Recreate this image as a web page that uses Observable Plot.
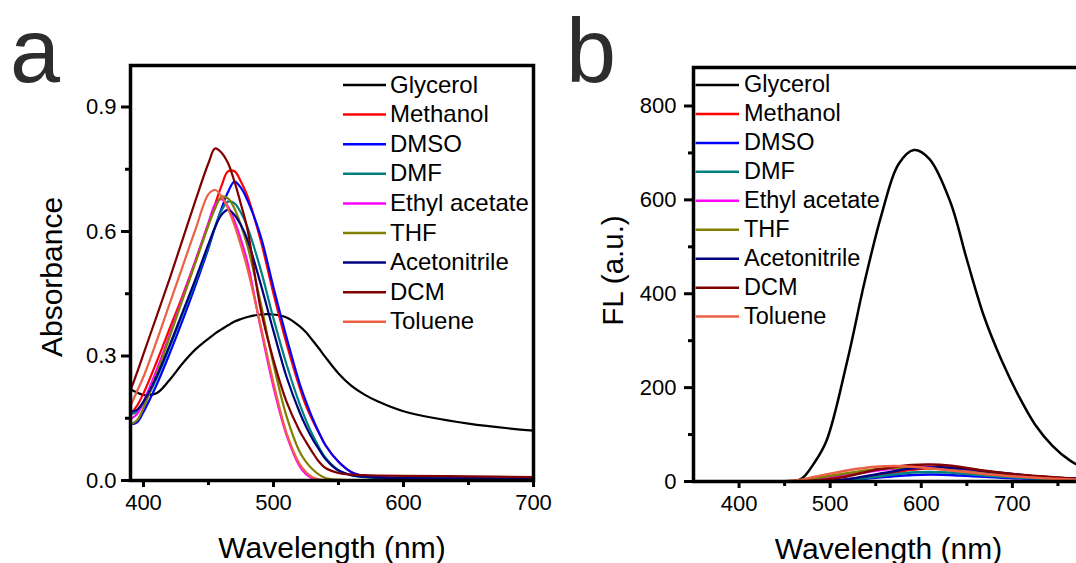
<!DOCTYPE html>
<html><head><meta charset="utf-8">
<script src="https://cdn.jsdelivr.net/npm/d3@7"></script>
<script src="https://cdn.jsdelivr.net/npm/@observablehq/plot@0.6"></script>
<style>
body{margin:0;background:#fff;}
#wrap{position:relative;width:1076px;height:563px;overflow:hidden;font-family:"Liberation Sans",Arial,sans-serif;background:#fff;}
#wrap > svg{position:absolute;top:0;}
</style></head><body><div id="wrap"></div>
<script>
// ---------- series names & colours ----------
const solvents = ["Glycerol","Methanol","DMSO","DMF","Ethyl acetate","THF","Acetonitrile","DCM","Toluene"];
const colors   = ["#000000","#ff0000","#0000ff","#008080","#ff00ff","#808000","#000080","#800000","#ee6044"];

// ---------- panel a: absorbance ----------
const absX = [390,395,400,410,420,430,440,450,455,460,465,470,475,480,490,500,510,520,525,530,535,540,550,560,570,580,600,650,700];
const absGlycerol     = [.22,.212,.206,.21,.242,.282,.316,.342,.354,.364,.374,.383,.389,.394,.40,.40,.393,.372,.357,.338,.318,.297,.258,.228,.207,.191,.167,.137,.12];
const absMethanol     = [.16,.18,.21,.285,.365,.445,.53,.62,.665,.71,.745,.745,.72,.685,.58,.45,.33,.225,.18,.145,.115,.085,.045,.02,.01,.008,.006,.005,.004];
const absDMSO         = [.135,.14,.165,.23,.305,.385,.47,.56,.61,.655,.695,.72,.705,.675,.59,.465,.345,.235,.19,.15,.115,.085,.045,.02,.011,.008,.006,.005,.004];
const absDMF          = [.16,.165,.185,.245,.32,.40,.48,.565,.61,.65,.672,.668,.645,.61,.51,.39,.28,.185,.145,.11,.08,.055,.025,.012,.008,.006,.005,.004,.003];
const absEthylAcetate = [.148,.16,.19,.265,.35,.44,.53,.62,.665,.678,.66,.625,.58,.525,.37,.225,.11,.035,.015,.005,.001,0,0,0,0,0,0,0,0];
const absTHF          = [.135,.145,.175,.255,.345,.435,.525,.615,.655,.684,.68,.655,.615,.565,.43,.28,.155,.07,.045,.027,.014,.006,.002,.001,0,0,0,0,0];
const absAcetonitrile = [.165,.17,.19,.25,.325,.405,.485,.57,.61,.64,.652,.64,.615,.58,.475,.36,.25,.165,.13,.10,.075,.052,.024,.013,.009,.007,.006,.005,.004];
const absDCM          = [.217,.26,.305,.395,.485,.58,.675,.765,.80,.79,.765,.72,.665,.605,.415,.29,.19,.12,.093,.068,.045,.03,.018,.014,.013,.012,.011,.01,.008];
const absToluene      = [.18,.215,.25,.335,.425,.515,.605,.69,.70,.685,.655,.615,.565,.51,.375,.235,.115,.04,.02,.008,.003,.001,0,0,0,0,0,0,0];
const absSeries = [absGlycerol,absMethanol,absDMSO,absDMF,absEthylAcetate,absTHF,absAcetonitrile,absDCM,absToluene];
const absXTicks = [400,500,600,700];
const absXMinor = [450,550,650];
const absYTicks = [0,0.3,0.6,0.9];
const absYMinor = [0.15,0.45,0.75];

// ---------- panel b: fluorescence ----------
const flGlyX = [430,450,461,470,482,496,519,538,557,575,592,609,632,650,669,688,707,725,744,763,780,800];
const flGlycerol = [0,0,0,8,38,87,259,427,573,676,706,687,595,473,351,259,182,121,76,45,28,16];
const flX = [430,450,470,490,510,530,550,570,590,610,630,650,670,700,730,760,800];
const flMethanol     = [0,0,0.2,0.8,2.5,6,12,19,25,28,28,25,21,15,10,6,3];
const flDMSO         = [0,0,0.1,0.4,1.5,4,8,11,14,15,14,12,10,7,5,3,2];
const flDMF          = [0,0,0.1,0.5,2,5,10,15,19,20,19,16,13,9,6,4,2];
const flEthylAcetate = [0,0.2,2,6,11,17,23,27,30,31,29,25,20,14,9,6,3];
const flTHF          = [0,0.3,3,9,15,21,26,29,30,28,25,21,17,12,8,5,3];
const flAcetonitrile = [0,0,0.2,1,3,8,15,22,28,30,30,27,22,16,10,7,4];
const flDCM          = [0,0,0.5,3,8,16,25,31,35,36,34,29,23,16,11,7,4];
const flToluene      = [0,0.5,4.5,13,20.5,27,31.5,33,31.5,28,24,20,16,11,7.5,5,3];
const flSeries = [null,flMethanol,flDMSO,flDMF,flEthylAcetate,flTHF,flAcetonitrile,flDCM,flToluene];
const flXTicks = [400,500,600,700];
const flXMinor = [450,550,650,750];
const flYTicks = [0,200,400,600,800];
const flYMinor = [100,300,500,700];

// ---------- build tables ----------
const absRows = [];
solvents.forEach((s,i)=>absX.forEach((x,j)=>absRows.push({s, x, y: absSeries[i][j]})));
const flRows = [];
flGlyX.forEach((x,j)=>flRows.push({s:"Glycerol", x, y: flGlycerol[j]}));
solvents.forEach((s,i)=>{ if(i>0) flX.forEach((x,j)=>flRows.push({s, x, y: flSeries[i][j]})); });

const FONT = "Liberation Sans, Arial, sans-serif";
const wrap = document.getElementById("wrap");

const plotA = Plot.plot({
  width: 560, height: 563,
  marginLeft: 130, marginRight: 27, marginTop: 65, marginBottom: 83,
  style: {fontFamily: FONT, fontSize: "22px", color: "#000", background: "transparent", overflow: "visible"},
  x: {domain: [390, 700], label: null},
  y: {domain: [0, 1.0], label: null},
  color: {domain: solvents, range: colors},
  marks: [
    Plot.line(absRows, {x: "x", y: "y", z: "s", stroke: "s", strokeWidth: 2.2, curve: "catmull-rom"}),
    Plot.axisX(absXTicks, {tickSize: 7, tickPadding: 7, strokeWidth: 3, label: null, fontSize: 22}),
    Plot.axisX(absXMinor, {tickSize: 5, fill: "none", stroke: "#000", strokeWidth: 3, label: null}),
    Plot.axisY(absYTicks, {tickSize: 9, tickPadding: 5, strokeWidth: 3, tickFormat: d3.format(".1f"), label: null, fontSize: 22}),
    Plot.axisY(absYMinor, {tickSize: 5, fill: "none", stroke: "#000", strokeWidth: 3, label: null}),
    Plot.frame({stroke: "#000", strokeWidth: 3.5}),
    Plot.text(["Wavelength (nm)"], {text: d => d, frameAnchor: "bottom", textAnchor: "middle", dy: 77, fontSize: 30}),
    Plot.text(["Absorbance"], {text: d => d, frameAnchor: "left", textAnchor: "middle", lineAnchor: "middle", dx: -78, dy: 4, rotate: -90, fontSize: 30})
  ]
});
plotA.style.left = "0px";
wrap.appendChild(plotA);

const plotB = Plot.plot({
  width: 620, height: 563,
  marginLeft: 153, marginRight: 57, marginTop: 67, marginBottom: 82,
  style: {fontFamily: FONT, fontSize: "22px", color: "#000", background: "transparent", overflow: "visible"},
  x: {domain: [350, 800], label: null},
  y: {domain: [0, 882], label: null},
  color: {domain: solvents, range: colors},
  marks: [
    Plot.line(flRows, {x: "x", y: "y", z: "s", stroke: "s", strokeWidth: 2.5, curve: "catmull-rom"}),
    Plot.axisX(flXTicks, {tickSize: 7, tickPadding: 7, strokeWidth: 3, label: null, fontSize: 22}),
    Plot.axisX(flXMinor, {tickSize: 5, fill: "none", stroke: "#000", strokeWidth: 3, label: null}),
    Plot.axisY(flYTicks, {tickSize: 9, tickPadding: 8, strokeWidth: 3, label: null, fontSize: 22}),
    Plot.axisY(flYMinor, {tickSize: 5, fill: "none", stroke: "#000", strokeWidth: 3, label: null}),
    Plot.frame({stroke: "#000", strokeWidth: 3.5}),
    Plot.text(["Wavelength (nm)"], {text: d => d, frameAnchor: "bottom", textAnchor: "middle", dx: -10, dy: 77, fontSize: 30}),
    Plot.text(["FL (a.u.)"], {text: d => d, frameAnchor: "left", textAnchor: "middle", lineAnchor: "middle", dx: -80, dy: -4, rotate: -90, fontSize: 29.5})
  ]
});
plotB.style.left = "540px";
wrap.appendChild(plotB);

// ---------- overlay: panel letters & legends ----------
const ov = d3.select(wrap).append("svg")
  .attr("width", 1076).attr("height", 563)
  .style("left", "0px").style("font-family", FONT);

ov.append("text").attr("x", 10).attr("y", 81.5).attr("font-size", 90).attr("fill", "#2d2d2d").text("a");
ov.append("text").attr("x", 566).attr("y", 81.5).attr("font-size", 90).attr("fill", "#2d2d2d").text("b");

function legend(x1, x2, tx, y0, dy, fs) {
  const g = ov.append("g");
  solvents.forEach((s, i) => {
    const y = y0 + i * dy;
    g.append("line").attr("x1", x1).attr("x2", x2).attr("y1", y).attr("y2", y)
      .attr("stroke", colors[i]).attr("stroke-width", 2.5);
    g.append("text").attr("x", tx).attr("y", y - 1 + 0.36 * fs).attr("font-size", fs).attr("fill", "#000").text(s);
  });
}
legend(343, 386, 390, 85, 29.6, 24);
legend(695.5, 739, 744, 85, 28.95, 23.5);
</script>
</body></html>
